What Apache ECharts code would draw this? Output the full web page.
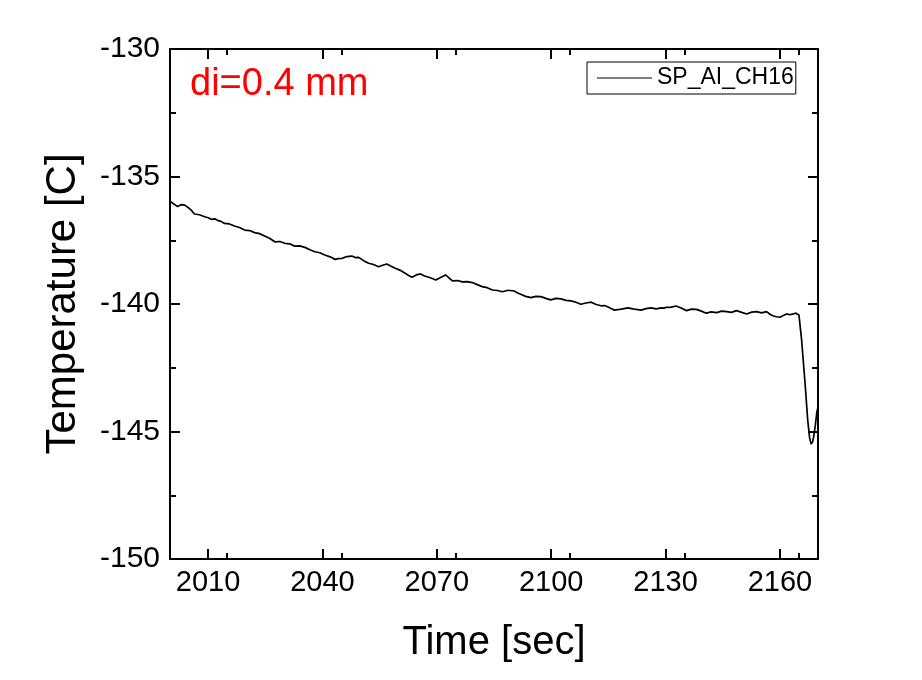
<!DOCTYPE html>
<html>
<head>
<meta charset="utf-8">
<script src="https://cdn.jsdelivr.net/npm/echarts@6/dist/echarts.min.js"></script>
<style>
html,body{margin:0;padding:0;background:#fff;}
#chart{width:922px;height:680px;}
</style>
</head>
<body>
<div id="chart"></div>
<script>
var seriesName = 'SP_AI_CH16';
var annotation = 'di=0.4 mm';
var xTitle = 'Time [sec]';
var yTitle = 'Temperature [C]';
var xMajorTicks = [2010, 2040, 2070, 2100, 2130, 2160];

var times = [
2000.0,2001.0,2002.0,2003.0,2003.8,2004.6,2005.5,2006.4,2007.7,2009.1,
2010.0,2010.8,2011.7,2012.6,2013.4,2014.3,2015.6,2016.9,2018.2,2019.6,
2020.9,2022.2,2023.5,2024.8,2026.1,2027.5,2028.8,2030.1,2031.4,2032.7,
2034.0,2035.4,2036.7,2038.0,2039.3,2040.6,2042.0,2043.3,2044.2,2045.1,
2046.4,2047.7,2048.6,2049.5,2050.8,2052.1,2053.4,2054.7,2055.8,2056.9,
2058.0,2059.1,2060.4,2061.8,2062.6,2063.5,2064.6,2065.7,2066.8,2067.9,
2068.8,2069.7,2071.0,2072.3,2073.2,2074.1,2075.4,2076.7,2078.0,2079.3,
2080.6,2081.9,2083.2,2084.6,2085.9,2087.2,2088.7,2090.3,2091.1,2092.0,
2093.3,2094.7,2096.0,2097.3,2098.6,2099.9,2101.2,2102.6,2103.9,2105.2,
2106.5,2107.8,2109.1,2110.5,2111.8,2113.1,2114.0,2114.8,2115.7,2116.6,
2118.4,2120.1,2121.8,2123.6,2124.9,2126.2,2127.5,2128.9,2129.6,2130.2,
2131.5,2132.8,2134.1,2135.5,2136.8,2138.1,2139.4,2140.7,2142.0,2143.4,
2144.7,2146.0,2147.3,2148.6,2150.0,2151.3,2152.6,2153.9,2155.2,2156.5,
2157.4,2158.3,2159.1,2160.0,2160.9,2161.8,2162.6,2163.5,2164.2,2165.0,
2165.7,2166.6,2167.3,2167.8,2168.2,2168.6,2168.9,2169.3,2169.7,2170.0
];
var temps = [
-135.97,-136.08,-136.18,-136.10,-136.12,-136.20,-136.31,-136.47,-136.50,-136.58,
-136.62,-136.68,-136.66,-136.73,-136.76,-136.84,-136.86,-136.94,-137.00,-137.10,
-137.12,-137.20,-137.24,-137.33,-137.42,-137.56,-137.55,-137.62,-137.64,-137.73,
-137.72,-137.78,-137.87,-137.95,-137.99,-138.08,-138.15,-138.25,-138.22,-138.21,
-138.14,-138.12,-138.18,-138.17,-138.30,-138.40,-138.45,-138.54,-138.48,-138.43,
-138.52,-138.60,-138.68,-138.80,-138.88,-138.95,-138.86,-138.82,-138.90,-138.95,
-139.00,-139.06,-138.96,-138.86,-138.98,-139.09,-139.08,-139.13,-139.12,-139.16,
-139.24,-139.32,-139.36,-139.45,-139.47,-139.52,-139.46,-139.49,-139.56,-139.62,
-139.70,-139.75,-139.70,-139.71,-139.78,-139.84,-139.78,-139.80,-139.86,-139.88,
-139.93,-140.01,-139.96,-139.93,-140.02,-140.07,-140.06,-140.11,-140.18,-140.24,
-140.20,-140.15,-140.20,-140.24,-140.18,-140.15,-140.19,-140.15,-140.16,-140.13,
-140.12,-140.08,-140.16,-140.26,-140.20,-140.21,-140.28,-140.36,-140.31,-140.34,
-140.28,-140.30,-140.33,-140.26,-140.33,-140.39,-140.32,-140.30,-140.35,-140.30,
-140.40,-140.47,-140.50,-140.52,-140.45,-140.39,-140.42,-140.39,-140.36,-140.43,
-141.41,-143.10,-144.55,-145.25,-145.49,-145.40,-145.18,-144.75,-144.24,-144.05
];

var FONT = 'Liberation Sans, Arial, sans-serif';
var chart = echarts.init(document.getElementById('chart'), null, {renderer: 'canvas'});

var data = times.map(function (t, i) { return [t, temps[i]]; });

function xAxisCfg(pos, showLabel) {
  return {
    type: 'value', position: pos, min: 2000, max: 2170, interval: 30,
    axisLine: {show: true, onZero: false, lineStyle: {color: '#000', width: 2}},
    axisTick: {show: true, inside: true, length: 10, customValues: xMajorTicks, lineStyle: {color: '#000', width: 2}},
    minorTick: {show: true, splitNumber: 2, length: 6, lineStyle: {color: '#000', width: 2}},
    axisLabel: {show: showLabel, customValues: xMajorTicks, color: '#000', fontSize: 29, fontFamily: FONT, margin: 9,
      formatter: function (v) { return String(Math.round(v)); }},
    splitLine: {show: false}, minorSplitLine: {show: false}
  };
}
function yAxisCfg(pos, showLabel) {
  return {
    type: 'value', position: pos, min: -150, max: -130, interval: 5,
    axisLine: {show: true, onZero: false, lineStyle: {color: '#000', width: 2}},
    axisTick: {show: true, inside: true, length: 10, lineStyle: {color: '#000', width: 2}},
    minorTick: {show: true, splitNumber: 2, length: 6, lineStyle: {color: '#000', width: 2}},
    axisLabel: {show: showLabel, color: '#000', fontSize: 30, fontFamily: FONT, margin: 10},
    splitLine: {show: false}, minorSplitLine: {show: false}
  };
}

chart.setOption({
  animation: false,
  backgroundColor: '#fff',
  grid: {left: 170, right: 104, top: 49, bottom: 121, containLabel: false},
  xAxis: [xAxisCfg('bottom', true), xAxisCfg('top', false)],
  yAxis: [yAxisCfg('left', true), yAxisCfg('right', false)],
  legend: {
    data: [{name: seriesName, icon: 'rect'}], left: 587, top: 62, orient: 'horizontal',
    borderColor: '#000', borderWidth: 1, borderRadius: 0,
    padding: [4, 2, 4, 10], itemWidth: 55, itemHeight: 1.2, itemGap: 5,
    itemStyle: {color: '#000', borderWidth: 0},
    textStyle: {color: '#000', fontSize: 23, fontFamily: FONT, lineHeight: 24},
    selectedMode: false
  },
  series: [{
    name: seriesName, type: 'line', xAxisIndex: 0, yAxisIndex: 0,
    data: data, showSymbol: false, symbol: 'none', clip: true,
    lineStyle: {color: '#000', width: 1.7}, itemStyle: {color: '#000'}
  }],
  graphic: [
    {type: 'text', x: 190, y: 85, style: {text: annotation, fill: '#ff0000', fontSize: 38, fontFamily: FONT, textAlign: 'left', textVerticalAlign: 'middle'}},
    {type: 'text', x: 494, y: 643, style: {text: xTitle, fill: '#000', fontSize: 40, fontFamily: FONT, textAlign: 'center', textVerticalAlign: 'middle'}},
    {type: 'text', x: 63, y: 304, rotation: Math.PI / 2, style: {text: yTitle, fill: '#000', fontSize: 42, fontFamily: FONT, textAlign: 'center', textVerticalAlign: 'middle'}}
  ]
});
</script>
</body>
</html>
